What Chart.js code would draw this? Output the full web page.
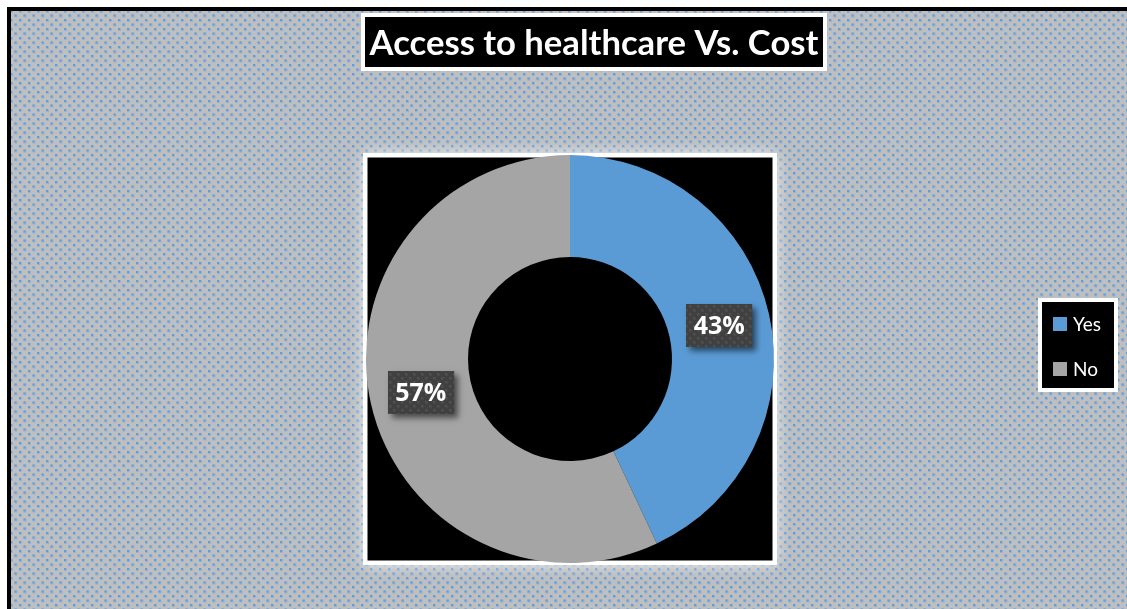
<!DOCTYPE html>
<html>
<head>
<meta charset="utf-8">
<script src="https://cdn.jsdelivr.net/npm/chart.js@4.4.1/dist/chart.umd.min.js"></script>
<style>
  html, body { margin: 0; padding: 0; background: #fff; overflow: hidden; }
  canvas { display: block; }
</style>
</head>
<body>
<canvas id="chart" width="1127" height="609"></canvas>
<script>
// Survey result: share of respondents with access to healthcare vs. cost
const chartTitle = 'Access to healthcare Vs. Cost';
const categories = ['Yes', 'No'];
const shares = [43, 57];
const sliceColors = ['#5B9BD5', '#A5A5A5'];

// Frame and box geometry (pixels)
const W = 1127, H = 609;
const plotBox = { x: 363, y: 153, w: 414, h: 412, border: 4.5 };
const titleBox = { x: 361, y: 13, w: 466, h: 58, border: 4 };
const legendBox = { x: 1038, y: 298, w: 80, h: 94, border: 4 };

// Small repeating dotted fill: soft 3px dot with a solid 2px core
function dotPattern(ctx, base, halo, dot, size) {
  const c = document.createElement('canvas');
  c.width = size; c.height = size;
  const g = c.getContext('2d');
  g.fillStyle = base;
  g.fillRect(0, 0, size, size);
  const h = size / 2;
  [[1, 1], [1 + h, 1 + h]].forEach(([x, y]) => {
    g.fillStyle = halo;
    g.fillRect(x, y, 3, 3);
    g.fillStyle = dot;
    g.fillRect(x, y, 2, 2);
  });
  return ctx.createPattern(c, 'repeat');
}

function framedBox(ctx, b) {
  ctx.fillStyle = '#ffffff';
  ctx.fillRect(b.x, b.y, b.w, b.h);
  ctx.fillStyle = '#000000';
  ctx.fillRect(b.x + b.border, b.y + b.border, b.w - 2 * b.border, b.h - 2 * b.border);
}

const decorPlugin = {
  id: 'decor',
  beforeDraw(chart) {
    const ctx = chart.ctx;
    ctx.save();
    ctx.fillStyle = '#ffffff';
    ctx.fillRect(0, 0, W, H);
    // outer chart frame
    ctx.fillStyle = '#000000';
    ctx.fillRect(7, 7, W, H);
    ctx.fillStyle = dotPattern(ctx, '#BFBFC0', '#94B4D6', '#5F9DDA', 9);
    ctx.fillRect(11, 11, W, H);

    // soft glow around the plot box
    ctx.shadowColor = 'rgba(255,255,255,0.55)';
    ctx.shadowBlur = 14;
    framedBox(ctx, plotBox);
    ctx.shadowColor = 'transparent';
    ctx.shadowBlur = 0;

    // title
    framedBox(ctx, titleBox);
    ctx.fillStyle = '#ffffff';
    let size = 33;
    ctx.font = 'bold ' + size + 'px Lato';
    const target = 449;
    const m = ctx.measureText(chartTitle).width;
    size = size * target / m;
    ctx.font = 'bold ' + size.toFixed(2) + 'px Lato';
    ctx.textAlign = 'center';
    ctx.textBaseline = 'alphabetic';
    ctx.fillText(chartTitle, titleBox.x + titleBox.w / 2, 55);

    // legend
    framedBox(ctx, legendBox);
    ctx.font = '19px Lato';
    ctx.textAlign = 'left';
    categories.forEach((name, i) => {
      const y = 317 + i * 45;
      ctx.fillStyle = sliceColors[i];
      ctx.fillRect(1053, y, 14, 14);
      ctx.fillStyle = '#ffffff';
      ctx.fillText(name, 1073, y + 14);
    });
    ctx.restore();
  },
  afterDatasetsDraw(chart) {
    const ctx = chart.ctx;
    const meta = chart.getDatasetMeta(0);
    const labelFill = dotPattern(ctx, '#404040', '#474747', '#505050', 8);
    ctx.save();
    meta.data.forEach((arc, i) => {
      const p = arc.tooltipPosition(true);
      const text = shares[i] + '%';
      ctx.font = 'bold 25px "Open Sans"';
      const tw = ctx.measureText(text).width;
      const bw = tw + 15, bh = 43;
      const bx = Math.round(p.x - bw / 2), by = Math.round(p.y - bh / 2);
      ctx.shadowColor = 'rgba(0,0,0,0.55)';
      ctx.shadowBlur = 6;
      ctx.shadowOffsetX = 4;
      ctx.shadowOffsetY = 4;
      ctx.fillStyle = '#404040';
      ctx.fillRect(bx, by, bw, bh);
      ctx.shadowColor = 'transparent';
      ctx.shadowBlur = 0;
      ctx.shadowOffsetX = 0;
      ctx.shadowOffsetY = 0;
      ctx.fillStyle = labelFill;
      ctx.fillRect(bx, by, bw, bh);
      ctx.fillStyle = '#ffffff';
      ctx.textAlign = 'center';
      ctx.textBaseline = 'middle';
      ctx.fillText(text, p.x, p.y + 1);
    });
    ctx.restore();
  }
};

new Chart(document.getElementById('chart'), {
  type: 'doughnut',
  data: {
    labels: categories,
    datasets: [{
      data: shares,
      backgroundColor: sliceColors,
      borderWidth: 0,
      hoverOffset: 0
    }]
  },
  options: {
    responsive: false,
    animation: false,
    devicePixelRatio: 1,
    cutout: '50%',
    layout: { padding: { left: 366, right: W - 774, top: 155, bottom: H - 563 } },
    plugins: {
      legend: { display: false },
      title: { display: false },
      tooltip: { enabled: false }
    }
  },
  plugins: [decorPlugin]
});
</script>
</body>
</html>
